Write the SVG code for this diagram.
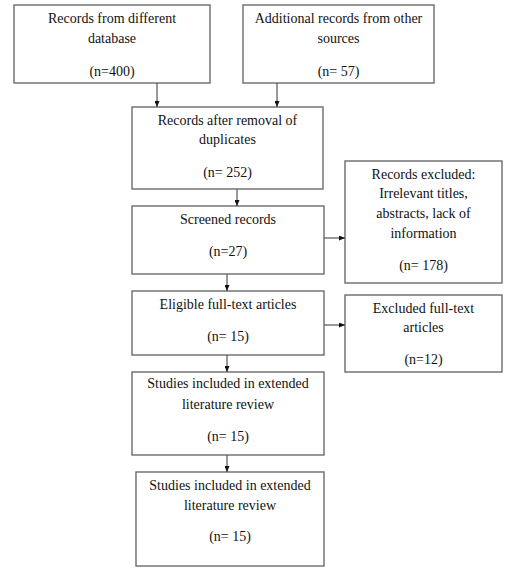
<svg xmlns="http://www.w3.org/2000/svg" width="525" height="577" viewBox="0 0 525 577">
<style>
.box{fill:#fff;stroke:#6b6b6b;stroke-width:1.4}
text{font-family:"Liberation Serif","Times New Roman",serif;font-size:14px;fill:#111;text-anchor:middle}
.con line{stroke:#555;stroke-width:1.2;marker-end:url(#ah)}
</style>
<defs>
<marker id="ah" markerWidth="6" markerHeight="5" refX="6" refY="2.5" orient="auto" markerUnits="userSpaceOnUse">
<path d="M0,0 L6,2.5 L0,5 Z" fill="#111"/>
</marker>
</defs>
<rect width="525" height="577" fill="#fff"/>
<g id="n1"><rect class="box" x="14" y="5" width="196" height="78"/>
<text x="112" y="23">Records from different</text><text x="112" y="43">database</text><text x="112" y="76">(n=400)</text></g>
<g id="n2"><rect class="box" x="243" y="5" width="191" height="78"/>
<text x="338.5" y="23">Additional records from other</text><text x="338.5" y="43">sources</text><text x="338.5" y="76">(n= 57)</text></g>
<g id="n3"><rect class="box" x="132" y="107" width="191" height="82"/>
<text x="227.5" y="125">Records after removal of</text><text x="227.5" y="144">duplicates</text><text x="227.5" y="177">(n= 252)</text></g>
<g id="n4"><rect class="box" x="345" y="161" width="157" height="122"/>
<text x="423.5" y="179">Records excluded:</text><text x="423.5" y="198">Irrelevant titles,</text><text x="423.5" y="218">abstracts, lack of</text><text x="423.5" y="238">information</text><text x="423.5" y="270">(n= 178)</text></g>
<g id="n5"><rect class="box" x="132" y="206" width="192" height="68"/>
<text x="228" y="224">Screened records</text><text x="228" y="256">(n=27)</text></g>
<g id="n6"><rect class="box" x="132" y="291" width="192" height="64"/>
<text x="228" y="309">Eligible full-text articles</text><text x="228" y="341">(n= 15)</text></g>
<g id="n7"><rect class="box" x="345" y="295" width="157" height="77"/>
<text x="423.5" y="313">Excluded full-text</text><text x="423.5" y="332">articles</text><text x="423.5" y="364">(n=12)</text></g>
<g id="n8"><rect class="box" x="132" y="372" width="192" height="83"/>
<text x="228" y="388">Studies included in extended</text><text x="228" y="409">literature review</text><text x="228" y="441">(n= 15)</text></g>
<g id="n9"><rect class="box" x="136" y="472" width="188" height="94"/>
<text x="230" y="490">Studies included in extended</text><text x="230" y="510">literature review</text><text x="230" y="541">(n= 15)</text></g>
<g id="connectors" class="con">
<line x1="157" y1="83" x2="157" y2="107"/>
<line x1="277" y1="83" x2="277" y2="107"/>
<line x1="237" y1="189" x2="237" y2="206"/>
<line x1="324" y1="238" x2="345" y2="238"/>
<line x1="227" y1="274" x2="227" y2="291"/>
<line x1="324" y1="325" x2="345" y2="325"/>
<line x1="227" y1="355" x2="227" y2="372"/>
<line x1="227" y1="455" x2="227" y2="472"/>
</g>
</svg>
